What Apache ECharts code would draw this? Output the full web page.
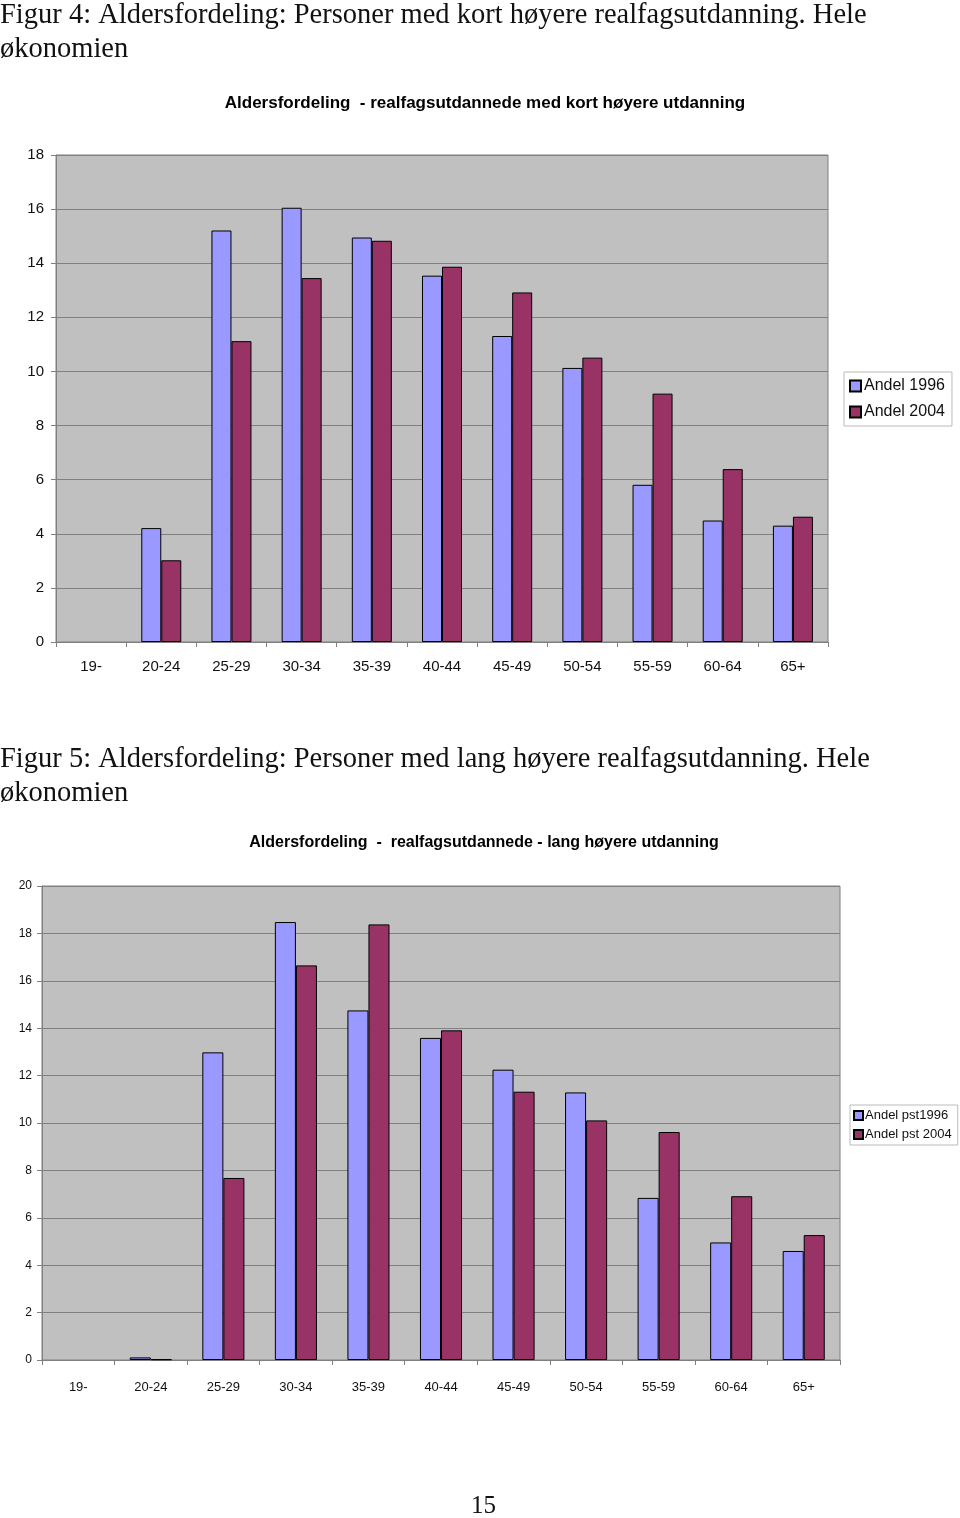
<!DOCTYPE html>
<html>
<head>
<meta charset="utf-8">
<script src="https://cdn.jsdelivr.net/npm/echarts@6/dist/echarts.min.js"></script>
<style>
html,body{margin:0;padding:0;background:#fff;}
#c{width:960px;height:1518px;}
</style>
</head>
<body>
<div id="c"></div>
<script>
// ---- data ----
const categories = ['19-','20-24','25-29','30-34','35-39','40-44','45-49','50-54','55-59','60-64','65+'];
const kort1996 = [null, 4.21, 15.21, 16.05, 14.95, 13.54, 11.31, 10.13, 5.81, 4.49, 4.30];
const kort2004 = [null, 3.02, 11.12, 13.45, 14.83, 13.87, 12.92, 10.51, 9.18, 6.39, 4.63];
const lang1996 = [null, 0.11, 12.98, 18.48, 14.75, 13.59, 12.25, 11.29, 6.84, 4.96, 4.60];
const lang2004 = [null, 0.03, 7.68, 16.65, 18.38, 13.91, 11.32, 10.11, 9.62, 6.91, 5.27];
const seriesNamesTop = ['Andel 1996', 'Andel 2004'];
const seriesNamesBottom = ['Andel pst1996', 'Andel pst 2004'];
const headingTop = ['Figur 4: Aldersfordeling: Personer med kort høyere realfagsutdanning. Hele', 'økonomien'];
const headingBottom = ['Figur 5: Aldersfordeling: Personer med lang høyere realfagsutdanning. Hele', 'økonomien'];
const chartTitleTop = 'Aldersfordeling  - realfagsutdannede med kort høyere utdanning';
const chartTitleBottom = 'Aldersfordeling  -  realfagsutdannede - lang høyere utdanning';
const pageNumber = '15';

const C1996 = '#9999ff', C2004 = '#993366';
const GRAY = '#808080';
const sans = '"Liberation Sans", Arial, sans-serif';
const serif = '"Liberation Serif", "DejaVu Serif", serif';

function xAx(gi, fs, margin) {
  return {
    type: 'category', gridIndex: gi, data: categories,
    axisLine: {lineStyle: {color: GRAY, width: 1}},
    axisTick: {show: true, length: 5, lineStyle: {color: GRAY}},
    axisLabel: {color: '#111', fontFamily: sans, fontSize: fs, margin: margin, interval: 0}
  };
}
function yAx(gi, max, fs, margin) {
  return {
    type: 'value', gridIndex: gi, min: 0, max: max, interval: 2,
    axisLine: {show: true, lineStyle: {color: GRAY, width: 1}},
    axisTick: {show: true, length: 5, lineStyle: {color: GRAY}},
    axisLabel: {color: '#111', fontFamily: sans, fontSize: fs, margin: margin},
    splitLine: {show: true, lineStyle: {color: GRAY, width: 1}}
  };
}
function bar(name, data, color, gi, gap) {
  return {
    type: 'bar', name: name, data: data, xAxisIndex: gi, yAxisIndex: gi,
    barGap: '0%', barCategoryGap: gap,
    itemStyle: {color: color, borderColor: '#000', borderWidth: 1},
    emphasis: {disabled: true}, animation: false
  };
}

const chart = echarts.init(document.getElementById('c'), null, {renderer: 'canvas'});
chart.setOption({
  animation: false,
  backgroundColor: '#fff',
  title: [
    {text: chartTitleTop, left: 480, textAlign: 'center', top: 90,
     textStyle: {fontFamily: sans, fontSize: 17, fontWeight: 'bold', color: '#000'}},
    {text: chartTitleBottom, left: 479, textAlign: 'center', top: 830,
     textStyle: {fontFamily: sans, fontSize: 16, fontWeight: 'bold', color: '#000'}}
  ],
  grid: [
    {left: 56, top: 155, width: 772, height: 487, show: true, backgroundColor: '#c0c0c0', borderColor: GRAY, borderWidth: 1, containLabel: false},
    {left: 42, top: 886, width: 798, height: 474, show: true, backgroundColor: '#c0c0c0', borderColor: GRAY, borderWidth: 1, containLabel: false}
  ],
  xAxis: [xAx(0, 15, 17), xAx(1, 13, 21)],
  yAxis: [yAx(0, 18, 15, 12), yAx(1, 20, 12, 10)],
  legend: [
    {data: seriesNamesTop, orient: 'vertical', left: 844, top: 372, width: 109,
     itemWidth: 11, itemHeight: 11, itemGap: 10, icon: 'rect',
     backgroundColor: '#fff', borderColor: '#bbb', borderWidth: 1, padding: [6, 7, 6, 5],
     textStyle: {fontFamily: sans, fontSize: 16, color: '#111', padding: [0, 0, 0, -2]}},
    {data: seriesNamesBottom, orient: 'vertical', left: 850, top: 1105,
     itemWidth: 9, itemHeight: 9, itemGap: 6, icon: 'rect',
     backgroundColor: '#fff', borderColor: '#bbb', borderWidth: 1, padding: [4, 6, 4, 3],
     textStyle: {fontFamily: sans, fontSize: 13, color: '#111', padding: [0, 0, 0, -3]}}
  ],
  series: [
    bar(seriesNamesTop[0], kort1996, C1996, 0, '43%'),
    bar(seriesNamesTop[1], kort2004, C2004, 0, '43%'),
    bar(seriesNamesBottom[0], lang1996, C1996, 1, '42%'),
    bar(seriesNamesBottom[1], lang2004, C2004, 1, '42%')
  ],
  graphic: [
    {type: 'text', left: 0, top: 1, style: {text: headingTop[0], font: '28.5px ' + serif, fill: '#111'}},
    {type: 'text', left: 0, top: 35, style: {text: headingTop[1], font: '28.5px ' + serif, fill: '#111'}},
    {type: 'text', left: 0, top: 745, style: {text: headingBottom[0], font: '28.5px ' + serif, fill: '#111'}},
    {type: 'text', left: 0, top: 779, style: {text: headingBottom[1], font: '28.5px ' + serif, fill: '#111'}},
    {type: 'text', left: 471, top: 1494, style: {text: pageNumber, font: '25px ' + serif, fill: '#111'}}
  ]
});
</script>
</body>
</html>
